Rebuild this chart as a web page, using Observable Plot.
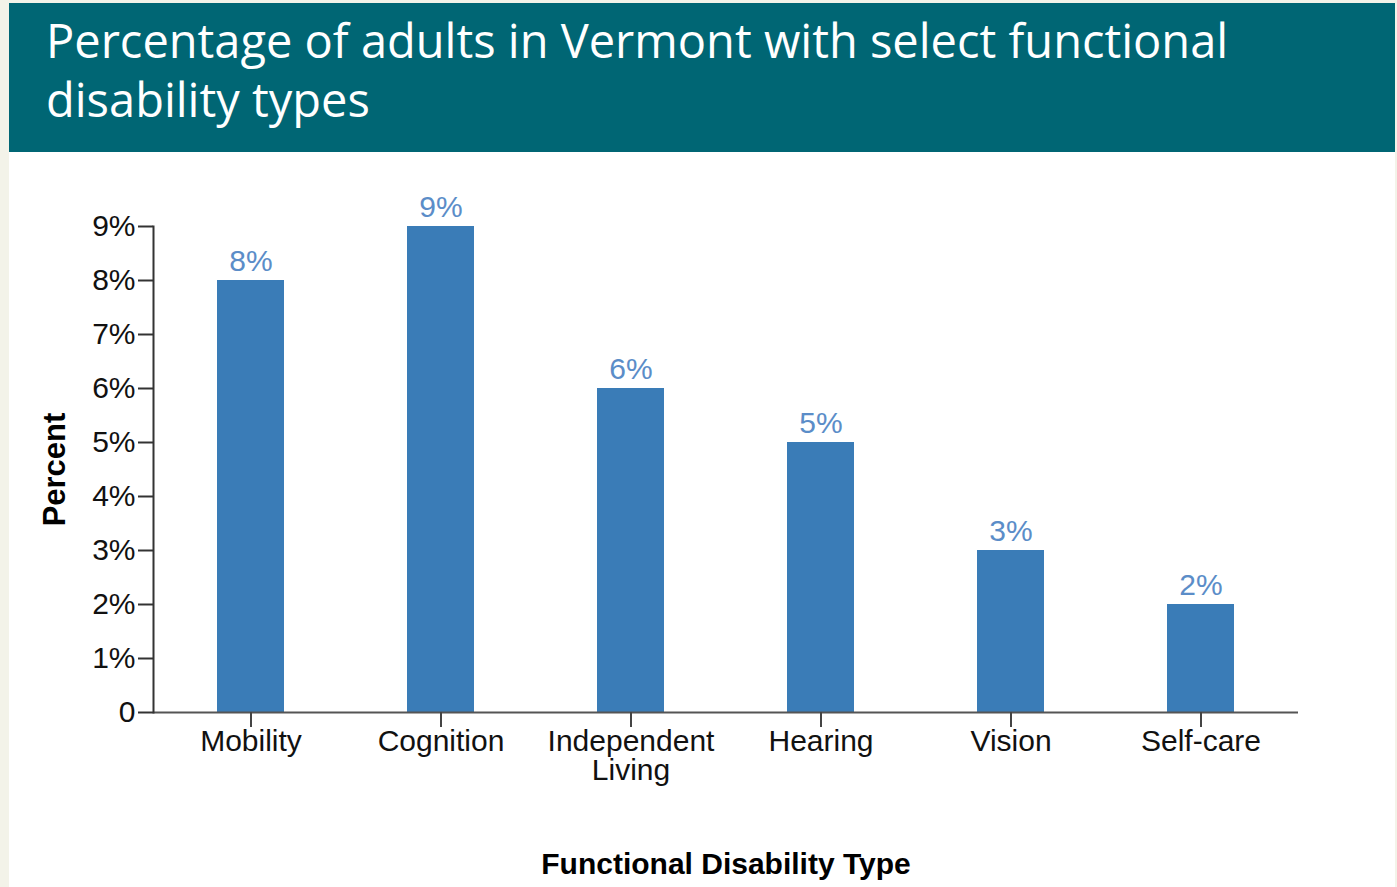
<!DOCTYPE html>
<html>
<head>
<meta charset="utf-8">
<script src="https://cdn.jsdelivr.net/npm/d3@7"></script>
<script src="https://cdn.jsdelivr.net/npm/@observablehq/plot@0.6"></script>
<style>
html, body { margin: 0; padding: 0; background: #f3f3e9; width: 1397px; height: 887px; overflow: hidden; }
#panel { position: absolute; left: 9px; top: 3px; width: 1386px; height: 884px; background: #ffffff; }
#header { position: absolute; left: 0; top: 0; width: 1386px; height: 149px; background: #006674; }
#title { position: absolute; left: 37px; top: 8px; margin: 0; color: #ffffff; font-family: "Open Sans", sans-serif; font-weight: 400; font-size: 47px; line-height: 59px; width: 1340px; white-space: nowrap; }
#chart { position: absolute; left: 0; top: 149px; }
</style>
</head>
<body>
<div id="panel">
  <div id="header"><h1 id="title">Percentage of adults in Vermont with select functional<br>disability types</h1></div>
  <div id="chart"></div>
</div>
<script>
const categories = ["Mobility", "Cognition", "Independent Living", "Hearing", "Vision", "Self-care"];
const tickLabels = ["Mobility", "Cognition", "Independent\nLiving", "Hearing", "Vision", "Self-care"];
const values = [8, 9, 6, 5, 3, 2];
const yTicks = [0, 1, 2, 3, 4, 5, 6, 7, 8, 9];
const yTickLabels = ["0", "1%", "2%", "3%", "4%", "5%", "6%", "7%", "8%", "9%"];
const yLabel = "Percent";
const xLabel = "Functional Disability Type";

const data = categories.map((c, i) => ({category: c, value: values[i]}));
const font = "'Liberation Sans', Arial, sans-serif";

const chart = Plot.plot({
  width: 1386,
  height: 735,
  marginLeft: 144,
  marginRight: 97,
  marginTop: 74,
  marginBottom: 175,
  style: {fontFamily: font, background: "transparent", overflow: "visible"},
  x: {domain: categories, paddingInner: 0.65, paddingOuter: 0.325, axis: null},
  y: {domain: [0, 9], axis: null},
  marks: [
    Plot.barY(data, {x: "category", y: "value", fill: "#3a7cb7"}),
    Plot.text(data, {x: "category", y: "value", text: d => d.value + "%", dy: -10, lineAnchor: "bottom", fill: "#5b8dc8", fontSize: 30}),
    Plot.ruleY([0], {stroke: "#555555", strokeWidth: 2}),
    Plot.frame({anchor: "left", stroke: "#333333", strokeWidth: 2}),
    Plot.axisY({ticks: yTicks, tickFormat: d => yTickLabels[yTicks.indexOf(d)], tickSize: 15, tickPadding: 3, fontSize: 30, stroke: "#333333", strokeWidth: 2, fill: "#111111", label: null}),
    Plot.axisX({tickFormat: d => tickLabels[categories.indexOf(d)], tickSize: 15, tickPadding: 3, fontSize: 30, lineHeight: 0.97, stroke: "#444444", strokeWidth: 2, fill: "#111111", label: null}),
    Plot.text([yLabel], {frameAnchor: "left", textAnchor: "middle", rotate: -90, dx: -98, fontSize: 31, fontWeight: "bold", fill: "#000000"}),
    Plot.text([xLabel], {frameAnchor: "bottom", textAnchor: "middle", lineAnchor: "top", dy: 140, fontSize: 30, fontWeight: "bold", fill: "#000000"})
  ]
});
document.getElementById("chart").appendChild(chart);
</script>
</body>
</html>
